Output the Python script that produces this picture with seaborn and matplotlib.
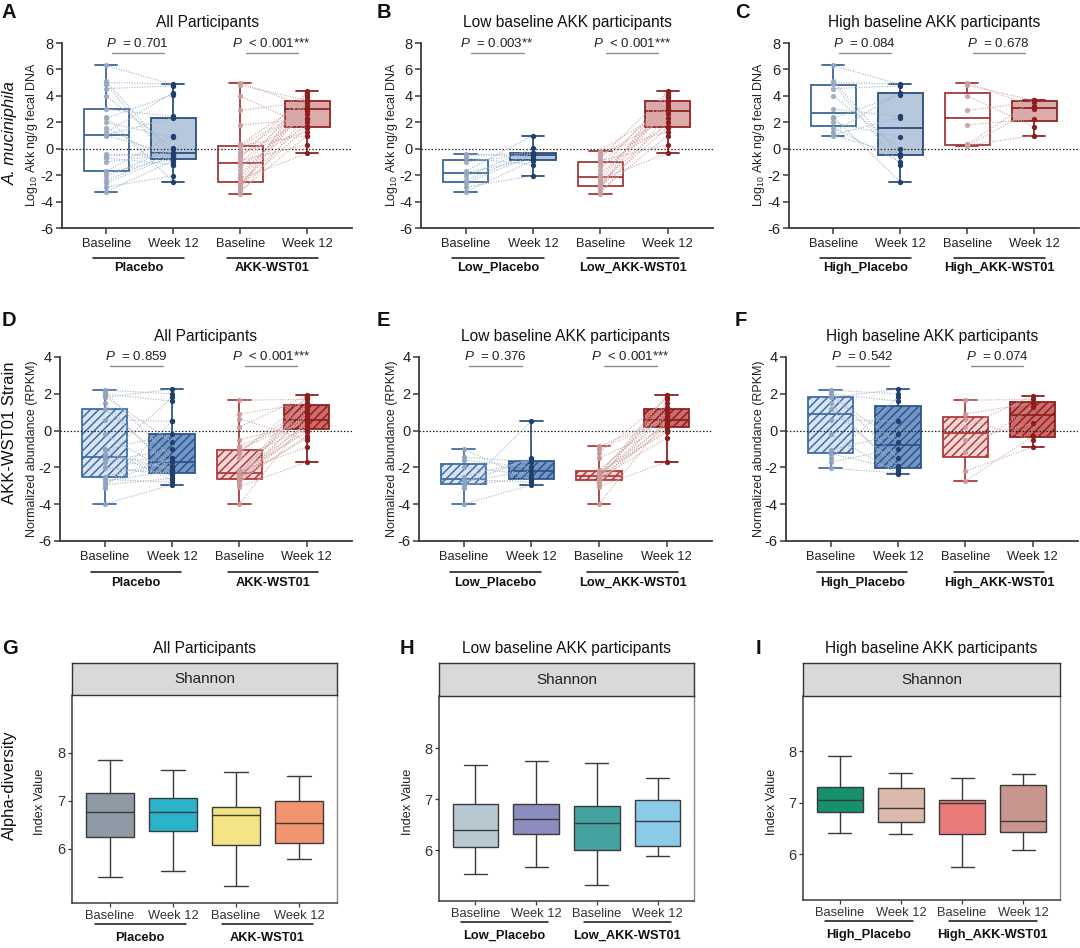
import numpy as np
import pandas as pd
import matplotlib
matplotlib.use("Agg")
import matplotlib.pyplot as plt
import matplotlib.transforms as mtransforms
import seaborn as sns

# ---------------- data ----------------
tick_labels = ["Baseline", "Week 12", "Baseline", "Week 12"]
panel_titles = ["All Participants", "Low baseline AKK participants", "High baseline AKK participants"]
group_names = [["Placebo", "AKK-WST01"], ["Low_Placebo", "Low_AKK-WST01"], ["High_Placebo", "High_AKK-WST01"]]
p_row1 = [["= 0.701", "< 0.001***"], ["= 0.003**", "< 0.001***"], ["= 0.084", "= 0.678"]]
p_row2 = [["= 0.859", "< 0.001***"], ["= 0.376", "< 0.001***"], ["= 0.542", "= 0.074"]]

# Log10 Akk ng/g fecal DNA (paired: index i = same participant)
akk_low_placebo_base = [-3.25, -2.9, -2.6, -2.4, -2.1, -1.8, -1.7, -1.0, -0.7, -0.55, -0.4]
akk_low_placebo_wk12 = [-0.9, -2.05, -0.5, -0.3, 0.05, -0.8, 1.0, -0.4, -1.2, -0.3, -0.6]
akk_high_placebo_base = [1.0, 1.05, 1.25, 1.6, 2.0, 2.3, 2.4, 3.0, 4.0, 4.55, 4.9, 5.0, 5.1, 6.3]
akk_high_placebo_wk12 = [-0.4, 2.35, 4.25, -1.0, 0.85, 4.1, -2.5, 2.45, 0.0, 4.75, -1.2, 4.9, -0.55, 4.85]
akk_low_wst_base = [-3.4, -3.2, -3.0, -2.9, -2.85, -2.75, -2.6, -2.45, -2.3, -2.15,
                    -1.9, -1.6, -1.3, -1.1, -0.9, -0.7, -0.5, -0.3, -0.15]
akk_low_wst_wk12 = [2.6, 1.0, 3.7, 4.4, 1.6, 3.1, 2.0, 3.9, -0.35, 3.3,
                    2.85, 4.1, 1.7, 3.5, 0.3, 4.3, 2.3, 1.3, 3.0]
akk_high_wst_base = [0.2, 0.25, 0.32, 1.8, 2.9, 4.0, 4.8, 5.0]
akk_high_wst_wk12 = [3.0, 1.0, 3.7, 2.25, 3.55, 1.65, 3.65, 3.2]

# Normalized abundance (RPKM) of AKK-WST01 strain
rpkm_low_placebo_base = [-4.0, -3.1, -2.95, -2.85, -2.75, -2.65, -2.5, -2.0, -1.6, -1.45, -1.0]
rpkm_low_placebo_wk12 = [-2.95, 0.5, -2.6, -1.5, -2.2, -2.8, -1.6, -2.4, -2.0, -1.7, -2.7]
rpkm_high_placebo_base = [-2.05, -1.7, -1.5, -1.25, -1.05, -0.2, 0.6, 1.2, 1.5, 1.8, 1.87, 2.0, 2.1, 2.2]
rpkm_high_placebo_wk12 = [-2.3, -1.0, 1.8, -2.1, -0.2, -2.35, 0.5, -1.9, -2.2, 2.25, -0.6, 1.6, -1.5, 2.0]
rpkm_low_wst_base = [-4.0, -3.05, -2.9, -2.8, -2.72, -2.68, -2.6, -2.55, -2.5, -2.45,
                     -2.4, -2.35, -2.3, -2.25, -2.15, -1.5, -1.2, -1.0, -0.85]
rpkm_low_wst_wk12 = [0.6, -1.7, 1.1, 0.25, 1.95, 0.45, -0.4, 1.5, 0.05, 0.8,
                     1.85, 0.35, 1.3, -0.1, 0.95, 0.15, 1.7, 0.55, 0.7]
rpkm_high_wst_base = [-2.75, -2.2, -1.15, -0.5, 0.2, 0.65, 0.9, 1.65]
rpkm_high_wst_wk12 = [-0.3, -0.9, 1.3, 0.4, 1.9, -0.5, 1.5, 1.7]

# Shannon index
shannon_all = [
    [5.41, 5.9, 6.24, 6.5, 6.77, 6.95, 7.16, 7.5, 7.84],
    [5.53, 6.0, 6.375, 6.6, 6.77, 6.9, 7.06, 7.35, 7.64],
    [5.22, 5.7, 6.07, 6.4, 6.71, 6.8, 6.87, 7.2, 7.60],
    [5.79, 5.95, 6.12, 6.3, 6.53, 6.75, 6.99, 7.25, 7.51],
]
shannon_low = [
    [5.52, 5.8, 6.05, 6.2, 6.40, 6.65, 6.91, 7.3, 7.66],
    [5.66, 6.0, 6.31, 6.45, 6.60, 6.75, 6.90, 7.3, 7.74],
    [5.31, 5.7, 6.0, 6.3, 6.52, 6.7, 6.86, 7.3, 7.70],
    [5.88, 5.98, 6.08, 6.3, 6.56, 6.8, 6.98, 7.2, 7.41],
]
shannon_high = [
    [6.42, 6.6, 6.82, 6.95, 7.06, 7.2, 7.31, 7.6, 7.90],
    [6.39, 6.5, 6.63, 6.75, 6.90, 7.1, 7.29, 7.45, 7.57],
    [5.75, 6.1, 6.40, 6.7, 7.0, 7.03, 7.06, 7.3, 7.48],
    [6.08, 6.25, 6.43, 6.55, 6.65, 7.0, 7.35, 7.45, 7.56],
]
shannon_colors = [
    ["#8e9ba6", "#2bb3cc", "#f4e384", "#f2946f"],
    ["#b8c8d2", "#8a8dbd", "#44a29f", "#8ccbe8"],
    ["#17916c", "#dcb9ad", "#e97c7a", "#c9968f"],
]

# ---------------- style ----------------
sns.set_theme(style="white")
plt.rcParams["font.family"] = ["Liberation Sans", "DejaVu Sans"]
plt.rcParams["mathtext.fontset"] = "custom"
plt.rcParams["mathtext.rm"] = "Liberation Sans"
plt.rcParams["mathtext.it"] = "Liberation Sans:italic"
plt.rcParams["mathtext.bf"] = "Liberation Sans:bold"
plt.rcParams["hatch.linewidth"] = 1.1
plt.rcParams["axes.unicode_minus"] = False

W, H = 1080, 948
fig = plt.figure(figsize=(W / 100, H / 100), dpi=100)


def px_axes(x0, y0, x1, y1):
    return fig.add_axes([x0 / W, 1 - y1 / H, (x1 - x0) / W, (y1 - y0) / H])


def fig_text(x, y, s, **kw):
    fig.text(x / W, 1 - y / H, s, **kw)


PLAIN = dict(fill=["#ffffff", "#b7c8dd", "#ffffff", "#ddaaaa"],
             edge=["#3a6795", "#284f7e", "#a33a3a", "#8e2424"],
             pts=["#98a9bf", "#1f406d", "#c9a0a0", "#8b1d1d"],
             lines=["#a3b4c8", "#d3a6a6"])
HATCH = dict(fill=["#d9e5f2", "#7396c6", "#f7d8d8", "#cf6a6a"],
             edge=["#3d6ea5", "#2c568a", "#b03a3a", "#8e2020"],
             pts=["#8fa3bd", "#1f406d", "#c99a9a", "#8b1d1d"],
             lines=["#aab6c4", "#cfaaaa"])
CATS = ["pl_b", "pl_w", "akk_b", "akk_w"]


def style_axis(ax, spine_col="#3a3a3a"):
    for s in ["top", "right"]:
        ax.spines[s].set_visible(False)
    for s in ["left", "bottom"]:
        ax.spines[s].set_color(spine_col)
        ax.spines[s].set_linewidth(1.3)
    ax.tick_params(axis="both", which="major", bottom=True, left=True, direction="out",
                   length=4, width=1.1, color=spine_col, colors="#222222")
    ax.tick_params(axis="y", labelsize=10.5, pad=2)
    ax.tick_params(axis="x", labelsize=9.3, pad=3)


def group_labels(ax, names, centers, half, line_off, text_off):
    trans = ax.get_xaxis_transform()
    t_line = mtransforms.offset_copy(trans, fig=fig, y=-line_off, units="dots")
    t_txt = mtransforms.offset_copy(trans, fig=fig, y=-text_off, units="dots")
    for c, name in zip(centers, names):
        ax.plot([c - half, c + half], [0, 0], transform=t_line, color="#111111",
                lw=1.1, clip_on=False)
        ax.text(c, 0, name, transform=t_txt, ha="center", va="center",
                fontweight="bold", fontsize=9.3, color="#111111")


def paired_panel(ax, pairs, ylim, yticks, hatched, ptexts, y_line, y_text, title):
    st = HATCH if hatched else PLAIN
    recs = []
    for g, (b, w) in enumerate(pairs):
        recs += [(CATS[2 * g], v) for v in b]
        recs += [(CATS[2 * g + 1], v) for v in w]
    df = pd.DataFrame(recs, columns=["cond", "value"])
    for k, c in enumerate(CATS):
        sub = df[df.cond == c]
        n0 = len(ax.patches)
        sns.boxplot(data=sub, x="cond", y="value", order=CATS, color=st["fill"][k],
                    linecolor=st["edge"][k], linewidth=1.3, width=0.67, whis=(0, 100),
                    saturation=1, showfliers=False, ax=ax)
        if hatched:
            for p in ax.patches[n0:]:
                p.set_hatch("////")
                p.set_edgecolor(st["edge"][k])
                if hasattr(p, "set_hatchcolor"):
                    p.set_hatchcolor(st["edge"][k])
        sns.stripplot(data=sub, x="cond", y="value", order=CATS, color=st["pts"][k],
                      size=3.8, jitter=False, linewidth=0, alpha=0.9 if k % 2 == 0 else 1.0,
                      ax=ax, zorder=5)
    for g, (b, w) in enumerate(pairs):
        x0 = CATS.index(CATS[2 * g])
        for vb, vw in zip(b, w):
            ax.plot([x0, x0 + 1], [vb, vw], ls=(0, (1, 1.3)), lw=0.8,
                    color=st["lines"][g], zorder=3)
    ax.axhline(0, color="#222222", lw=0.9, ls=(0, (1.2, 1.5)), zorder=2.6)
    ax.set_xlim(-0.66, 3.67)
    ax.set_ylim(*ylim)
    ax.set_yticks(yticks)
    ax.set_xticks(range(4))
    ax.set_xticklabels(tick_labels)
    ax.set_xlabel("")
    ax.set_ylabel("")
    style_axis(ax)
    for c, t in zip([0.47, 2.47], ptexts):
        ax.plot([c - 0.39, c + 0.39], [y_line, y_line], color="#8c8c8c", lw=1.0,
                clip_on=False)
        ax.text(c, y_text, r"$\it{P}$  " + t, ha="center", va="center", fontsize=9.6,
                color="#222222", clip_on=False)
    ttl = mtransforms.offset_copy(ax.transAxes, fig=fig, y=21, units="dots")
    ax.text(0.5, 1.0, title, transform=ttl, ha="center", va="center", fontsize=11.2,
            color="#111111")


# ---------------- rows 1 & 2 ----------------
row1_sets = [
    [(akk_low_placebo_base + akk_high_placebo_base, akk_low_placebo_wk12 + akk_high_placebo_wk12),
     (akk_low_wst_base + akk_high_wst_base, akk_low_wst_wk12 + akk_high_wst_wk12)],
    [(akk_low_placebo_base, akk_low_placebo_wk12), (akk_low_wst_base, akk_low_wst_wk12)],
    [(akk_high_placebo_base, akk_high_placebo_wk12), (akk_high_wst_base, akk_high_wst_wk12)],
]
row2_sets = [
    [(rpkm_low_placebo_base + rpkm_high_placebo_base, rpkm_low_placebo_wk12 + rpkm_high_placebo_wk12),
     (rpkm_low_wst_base + rpkm_high_wst_base, rpkm_low_wst_wk12 + rpkm_high_wst_wk12)],
    [(rpkm_low_placebo_base, rpkm_low_placebo_wk12), (rpkm_low_wst_base, rpkm_low_wst_wk12)],
    [(rpkm_high_placebo_base, rpkm_high_placebo_wk12), (rpkm_high_wst_base, rpkm_high_wst_wk12)],
]

row1_x = [(62, 352), (421, 713), (789, 1079)]
row2_x = [(60, 352), (419, 712), (786, 1078)]
letters1 = ["A", "B", "C"]
letters2 = ["D", "E", "F"]
letters3 = ["G", "H", "I"]
letter_x1 = [2, 377, 735]
letter_x3 = [2, 400, 756]
ylab_x1 = [32, 392, 759]
ylab_x3 = [40, 408, 772]

for i in range(3):
    ax = px_axes(row1_x[i][0], 43, row1_x[i][1], 228)
    paired_panel(ax, row1_sets[i], (-6, 8), range(-6, 9, 2), False, p_row1[i], 7.25, 8.0,
                 panel_titles[i])
    group_labels(ax, group_names[i], [0.48, 2.48], 0.68, 30, 40)
    fig_text(ylab_x1[i], 135, r"Log$_{10}$ Akk ng/g fecal DNA", rotation=90,
             ha="center", va="center", fontsize=9.0, color="#222222")
    fig_text(letter_x1[i], 12, letters1[i], fontsize=14.5, fontweight="bold",
             ha="left", va="center", color="#111111")

    ax2 = px_axes(row2_x[i][0], 357, row2_x[i][1], 541)
    paired_panel(ax2, row2_sets[i], (-6, 4), range(-6, 5, 2), True, p_row2[i], 3.5, 4.0,
                 panel_titles[i])
    group_labels(ax2, group_names[i], [0.47, 2.5], 0.67, 31, 42)
    fig_text(ylab_x1[i], 449, "Normalized abundance (RPKM)", rotation=90,
             ha="center", va="center", fontsize=9.0, color="#222222")
    fig_text(letter_x1[i], 321, letters2[i], fontsize=14.5, fontweight="bold",
             ha="left", va="center", color="#111111")

fig_text(10, 133, "A. muciniphila", rotation=90, ha="center", va="center",
         fontsize=12, style="italic", color="#111111")
fig_text(10, 433, "AKK-WST01 Strain", rotation=90, ha="center", va="center",
         fontsize=12, color="#111111")

# ---------------- row 3 ----------------
row3_frames = [(72, 337, 663, 695, 903, (4.87, 9.2)),
               (439, 694, 663, 696, 901, (5.0, 9.02)),
               (803, 1060, 663, 696, 900, (5.11, 9.07))]
shannon_sets = [shannon_all, shannon_low, shannon_high]

for i in range(3):
    x0, x1, ys, yt, yb, yl = row3_frames[i]
    ax = px_axes(x0, yt, x1, yb)
    sax = px_axes(x0, ys, x1, yt)
    recs = []
    for k, arr in enumerate(shannon_sets[i]):
        recs += [(CATS[k], v) for v in arr]
    df = pd.DataFrame(recs, columns=["cond", "value"])
    sns.boxplot(data=df, x="cond", y="value", hue="cond", order=CATS, hue_order=CATS,
                palette=shannon_colors[i], legend=False, linecolor="#3a3a3a",
                linewidth=1.0, width=0.75, whis=(0, 100), saturation=1,
                showfliers=False, ax=ax)
    ax.set_xlim(-0.6, 3.6)
    ax.set_ylim(*yl)
    ax.set_yticks([6, 7, 8])
    ax.set_xticks(range(4))
    ax.set_xticklabels(tick_labels)
    ax.set_xlabel("")
    ax.set_ylabel("")
    ax.spines["top"].set_visible(False)
    for s in ["left", "bottom"]:
        ax.spines[s].set_color("#3a3a3a")
        ax.spines[s].set_linewidth(1.1)
    ax.spines["right"].set_color("#8a8a8a")
    ax.spines["right"].set_linewidth(1.0)
    ax.tick_params(axis="both", bottom=True, left=True, direction="out", length=3,
                   width=0.9, color="#3a3a3a", colors="#333333")
    ax.tick_params(axis="y", labelsize=10.5, pad=2)
    ax.tick_params(axis="x", labelsize=9.3, pad=2)
    group_labels(ax, group_names[i], [0.48, 2.5], 0.72, 21, 35)

    sax.set_facecolor("#d9d9d9")
    sax.set_xticks([])
    sax.set_yticks([])
    for s in sax.spines.values():
        s.set_visible(True)
        s.set_color("#333333")
        s.set_linewidth(1.0)
    sax.text(0.5, 0.5, "Shannon", transform=sax.transAxes, ha="center", va="center",
             fontsize=11, color="#222222")
    ttl = mtransforms.offset_copy(sax.transAxes, fig=fig, y=14, units="dots")
    sax.text(0.5, 1.0, panel_titles[i], transform=ttl, ha="center", va="center",
             fontsize=11.2, color="#111111")
    fig_text(ylab_x3[i], 802, "Index Value", rotation=90, ha="center", va="center",
             fontsize=9.2, color="#222222")
    fig_text(letter_x3[i], 648, letters3[i], fontsize=14.5, fontweight="bold",
             ha="left", va="center", color="#111111")

fig_text(9, 785, "Alpha-diversity", rotation=90, ha="center", va="center",
         fontsize=12, color="#111111")

fig.savefig("out.png", dpi=100)
